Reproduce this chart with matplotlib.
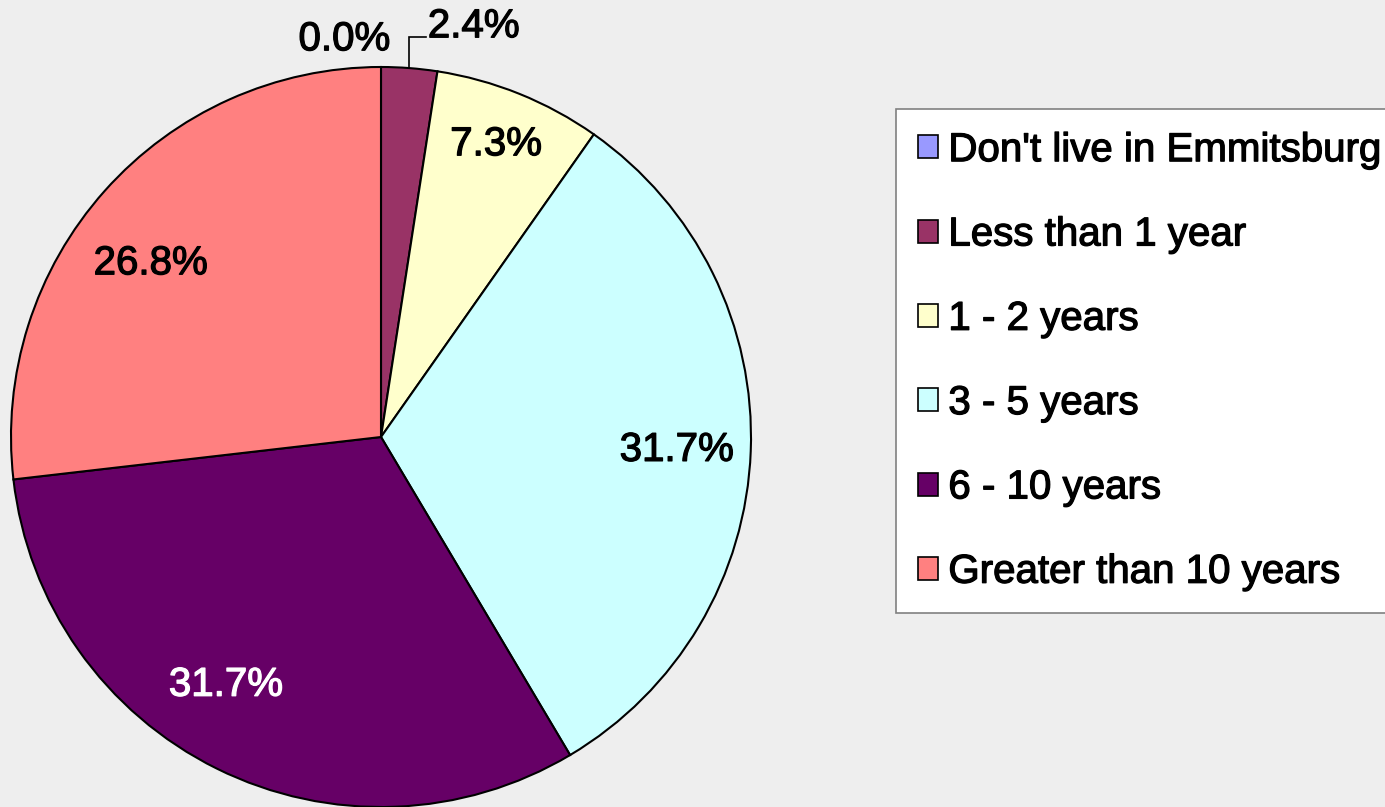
import numpy as np
import matplotlib
matplotlib.use("Agg")
import matplotlib.pyplot as plt
import matplotlib.patheffects as pe
from matplotlib.patches import Patch

plt.rcParams['font.family'] = ['Liberation Sans', 'DejaVu Sans']

# how long respondents have lived in Emmitsburg (response counts)
categories = ["Don't live in Emmitsburg", "Less than 1 year", "1 - 2 years",
              "3 - 5 years", "6 - 10 years", "Greater than 10 years"]
counts = [0, 1, 3, 13, 13, 11]
colors = ['#9999FF', '#993366', '#FFFFCC', '#CCFFFF', '#660066', '#FF8080']
text_colors = ['black', 'black', 'black', 'black', 'white', 'black']

# label placement inside the slices: radius and angle nudge (degrees)
label_r = [0.8, 0.8, 0.85, 0.80, 0.79, 0.78]
label_da = [0, 0, 0.5, -0.3, -5.7, 4.7]

FS = 29


def heavy(color):
    # slightly thicker strokes for the text
    return [pe.withStroke(linewidth=0.9, foreground=color)]


fig = plt.figure(figsize=(13.85, 8.07), dpi=100, facecolor='#eeeeee')
ax = fig.add_axes([11 / 1385, 0 / 807, 740 / 1385, 740 / 807])
ax.set_facecolor('none')

wedges, texts, autotexts = ax.pie(
    counts, colors=colors, startangle=90, counterclock=False,
    autopct='%1.1f%%', pctdistance=0.8,
    wedgeprops=dict(edgecolor='black', linewidth=1.5),
    textprops=dict(fontsize=FS))

for i, (w, t) in enumerate(zip(wedges, autotexts)):
    c = text_colors[i]
    t.set_color(c)
    t.set_path_effects(heavy(c))
    share = (w.theta2 - w.theta1) / 360
    if share < 0.05:
        t.set_visible(False)
        continue
    mid = np.deg2rad((w.theta1 + w.theta2) / 2 + label_da[i])
    t.set_position((label_r[i] * np.cos(mid), label_r[i] * np.sin(mid)))

total = sum(counts)
# tiny slices get their labels outside the pie
ax.text(0.025, 1.075, f"{100 * counts[0] / total:.1f}%", ha='right', va='center',
        fontsize=FS, path_effects=heavy('black'), clip_on=False)
w1 = wedges[1]
mid1 = np.deg2rad((w1.theta1 + w1.theta2) / 2)
x1, y1 = np.cos(mid1), np.sin(mid1)
ax.plot([x1, x1, x1 + 0.045], [y1, 1.08, 1.08], color='black', lw=1.2,
        clip_on=False, solid_joinstyle='miter')
ax.text(x1 + 0.05, 1.11, f"{100 * counts[1] / total:.1f}%", ha='left', va='center',
        fontsize=FS, path_effects=heavy('black'), clip_on=False)

ax.set_xlim(-1, 1)
ax.set_ylim(-1, 1)
ax.set_aspect('equal')
ax.axis('off')

handles = [Patch(facecolor=c, edgecolor='black', linewidth=1.2) for c in colors]
leg = fig.legend(handles, categories, loc='upper left',
                 bbox_to_anchor=(896 / 1385, 1 - 109 / 807),
                 fontsize=FS, frameon=True, fancybox=False, framealpha=1,
                 facecolor='white', edgecolor='#808080',
                 handlelength=0.5, handleheight=0.5, handletextpad=0.25,
                 labelspacing=1.15, borderpad=0.55, borderaxespad=0)
leg.get_frame().set_linewidth(1.2)
for t in leg.get_texts():
    t.set_path_effects(heavy('black'))

fig.savefig('out.png', dpi=100, facecolor=fig.get_facecolor())
